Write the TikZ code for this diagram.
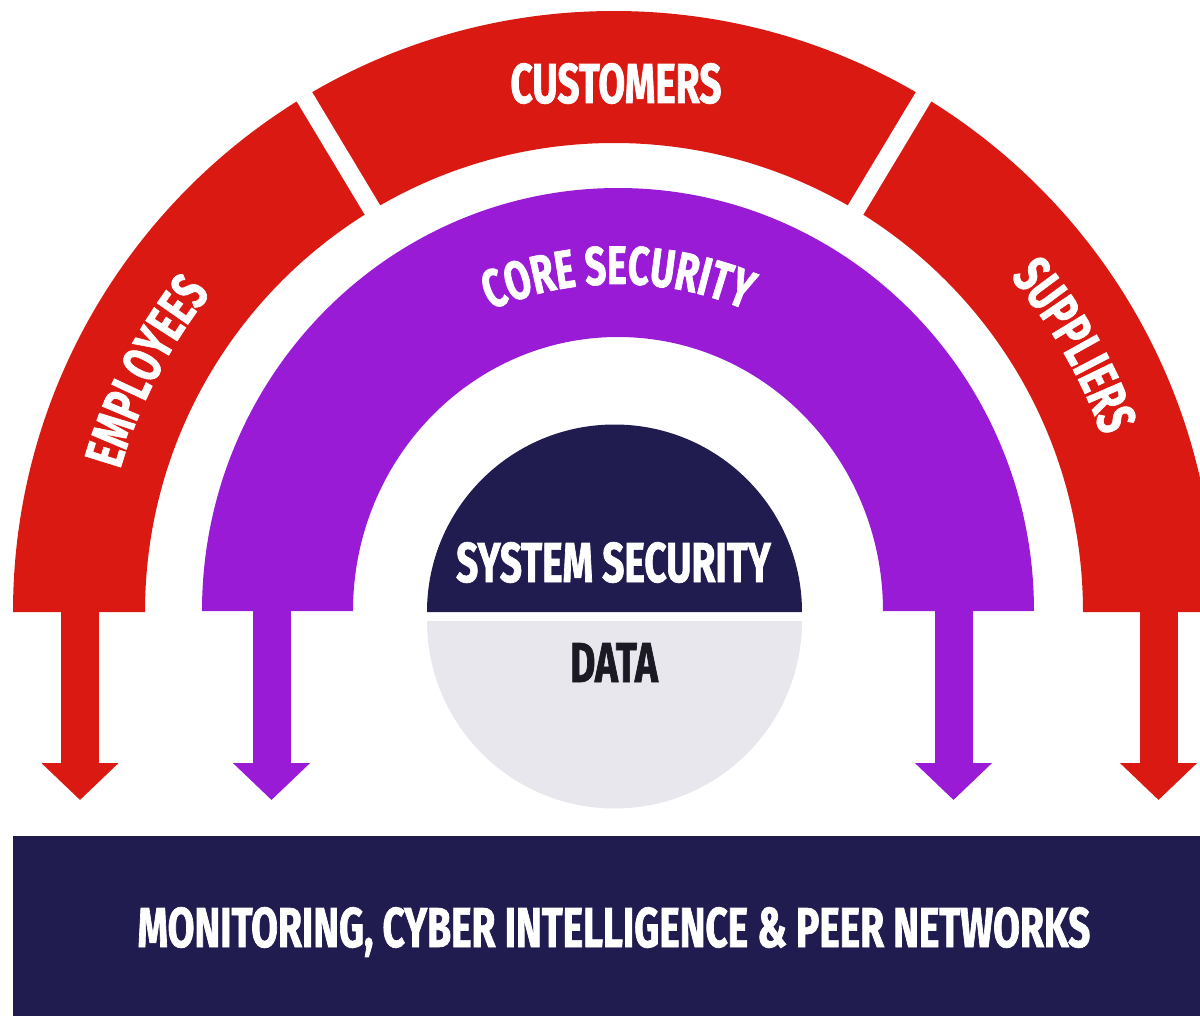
\documentclass[tikz,border=0pt]{standalone}
\usepackage{fontspec}
\usetikzlibrary{arrows.meta, calc, decorations.text}
\newfontfamily\condfont{Fira Sans}[FakeStretch=0.69, FakeBold=1.2]
\definecolor{ring}    {HTML}{DA1A12}
\definecolor{core}    {HTML}{991BD6}
\definecolor{navy}    {HTML}{201C4F}
\definecolor{datafill}{HTML}{E8E7ED}
\definecolor{ink}     {HTML}{1B1A24}
\newcommand{\capfont}{\condfont\bfseries\fontsize{16}{18}\selectfont}
\newcommand{\arcfont}{\condfont\bfseries\fontsize{15.4}{18}\selectfont}

\tikzset{
  caption/.style={text=white, inner sep=0pt, font=\capfont},
  flow/.style={line width=0.38cm, -{Triangle[width=0.75cm, length=0.37cm]}},
}

\begin{document}
\begin{tikzpicture}
    \useasboundingbox (0,0) rectangle (12,-10.16);
    \clip (0,0) rectangle (12,-10.16);
    \coordinate (rc) at (6.14,-6.12);
    \coordinate (pc) at (6.18,-6.11);
    \coordinate (cc) at (6.145,-6.12);

    \fill[ring] ($(rc)+(180:6.01)$) arc[start angle=180, end angle=0, radius=6.01]
      -- ++(-1.32,0) arc[start angle=0, end angle=180, radius=4.69] -- cycle;
    \foreach \a in {59,121}
      \draw[white, line width=0.18cm] ($(rc)+(\a:4.5)$) -- ($(rc)+(\a:6.2)$);

    \fill[core] ($(pc)+(180:4.16)$) arc[start angle=180, end angle=0, x radius=4.16, y radius=4.23]
      -- ++(-1.51,0) arc[start angle=0, end angle=180, x radius=2.65, y radius=2.74] -- cycle;

    \fill[navy] ($(cc)+(1.875,0)$) arc[start angle=0, end angle=180, radius=1.875] -- cycle;
    \fill[datafill] ($(cc)+(1.875,-0.09)$) arc[start angle=0, end angle=-180, radius=1.875] -- cycle;

    \foreach \x/\c [count=\i] in {0.80/ring, 2.715/core, 9.535/core, 11.585/ring} {
      \coordinate (out\i) at (\x,-6.06);
      \coordinate (tip\i) at (\x,-8.00);
      \draw[flow, \c] (out\i) -- (tip\i);
    }

    \node[fill=navy, minimum width=12.02cm, minimum height=1.80cm, inner sep=0pt] (base) at (6.14,-9.26) {};
    \node[caption, anchor=base] (basetitle) at (6.14,-9.47)
      {MONITORING, CYBER INTELLIGENCE \& PEER NETWORKS};

    \node[caption, anchor=base] (system) at (6.135,-5.82) {SYSTEM SECURITY};
    \node[caption, text=ink, anchor=base] (data) at (6.14,-6.82) {DATA};
    \node[caption, anchor=base] (customers) at (6.16,-1.03) {CUSTOMERS};

    \path[decorate, decoration={text along path, text align=center,
      text={|\arcfont\color{white}|EMPLOYEES}}]
      ($(rc)+(182.8:5.14)$) arc[start angle=182.8, end angle=122.8, radius=5.14];
    \path[decorate, decoration={text along path, text align=center,
      text={|\arcfont\color{white}|SUPPLIERS}}]
      ($(rc)+(60:5.19)$) arc[start angle=60, end angle=0, radius=5.19];
    \path[decorate, decoration={text along path, text align=center,
      text={|\arcfont\color{white}|CORE SECURITY}}]
      ($(pc)+(150:3.27)$) arc[start angle=150, end angle=30, radius=3.27];
  \end{tikzpicture}
\end{document}
